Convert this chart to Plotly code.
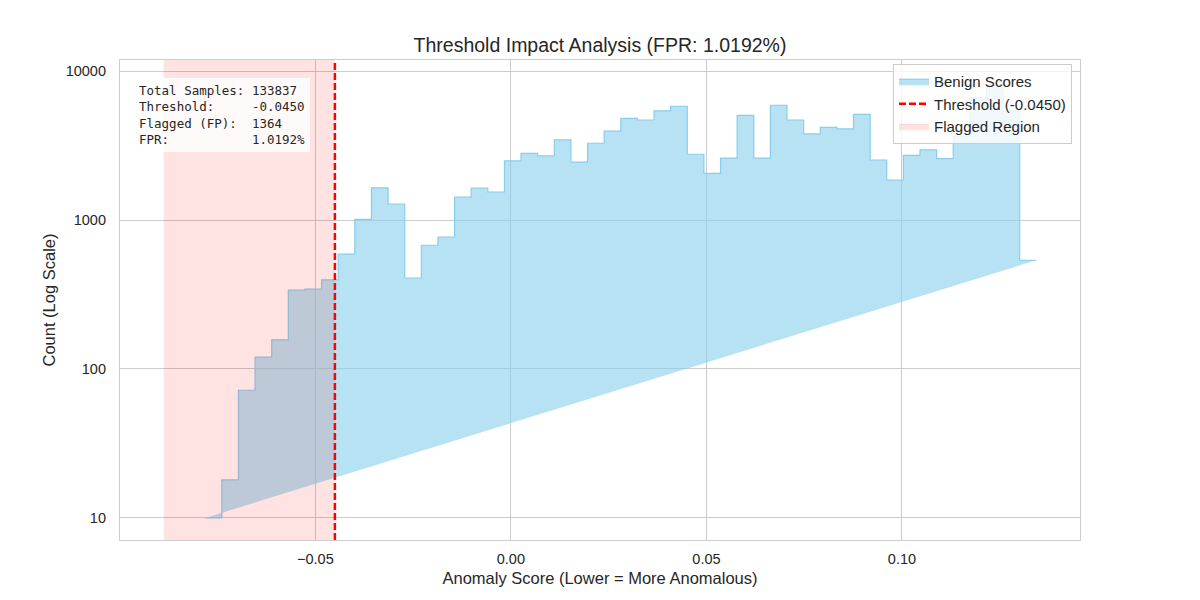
import numpy as np
import plotly.graph_objects as go

# ---- data ----
score_min = -0.07816
score_max = 0.13436
n_bins = 50
counts = [10, 18, 72, 120, 157, 339, 344, 396, 591, 1011,
          1645, 1280, 408, 677, 769, 1427, 1640, 1541, 2490, 2804,
          2690, 3445, 2449, 3275, 3954, 4810, 4690, 5394, 5800, 2762,
          2057, 2605, 5041, 2605, 5891, 4690, 3779, 4189, 4084, 5118,
          2528, 1855, 2717, 2951, 2580, 3660, 6600, 8000, 5350, 537]
threshold = -0.0450
flag_start = -0.0888
total_samples = 133837
flagged_fp = 1364
fpr_pct = 1.0192
x_tickvals = [-0.05, 0.0, 0.05, 0.10]
x_ticktext = ["\u22120.05", "0.00", "0.05", "0.10"]
y_tickvals = [10, 100, 1000, 10000]
y_ticktext = ["10", "100", "1000", "10000"]

edges = np.linspace(score_min, score_max, n_bins + 1)

# step outline (matplotlib stepfilled style)
xs, ys = [edges[0]], [counts[0]]
for i in range(n_bins):
    xs.append(edges[i + 1]); ys.append(counts[i])
    if i + 1 < n_bins:
        xs.append(edges[i + 1]); ys.append(counts[i + 1])

TXT = "#262626"
GRID = "#cccccc"
FONT = "Liberation Sans, Arial, sans-serif"

fig = go.Figure()
fig.add_trace(go.Scatter(
    x=xs, y=ys, mode="lines", fill="toself",
    fillcolor="rgba(135,206,235,0.6)",
    line=dict(color="rgb(135,206,235)", width=1.2),
    name="Benign Scores", legendrank=1, hoverinfo="skip"))

# legend-only entry for the flagged region (patch symbol)
fig.add_trace(go.Scatter(
    x=[None], y=[None], mode="lines", fill="toself",
    fillcolor="rgba(255,0,0,0.11)", line=dict(color="rgba(255,0,0,0.11)", width=1),
    name="Flagged Region", legendrank=3, hoverinfo="skip"))

fig.add_shape(type="rect", xref="x", yref="paper",
              x0=flag_start, x1=threshold, y0=0, y1=1,
              fillcolor="rgba(255,0,0,0.11)", line=dict(width=0),
              layer="above", showlegend=False)
fig.add_shape(type="line", xref="x", yref="paper",
              x0=threshold, x1=threshold, y0=0, y1=1,
              line=dict(color="red", width=2.5, dash="7px,3px"),
              layer="above", showlegend=True,
              name=f"Threshold ({threshold:.4f})", legendrank=2)

nb = "\u00a0"
lines = [
    f"Total Samples: {total_samples}",
    f"Threshold:     {threshold:.4f}",
    f"Flagged (FP):  {flagged_fp}",
    f"FPR:           {fpr_pct:.4f}%",
]
box_text = "<br>".join(l.replace(" ", nb) for l in lines)
fig.add_annotation(
    text=box_text, xref="paper", yref="paper",
    x=(134 - 120) / 960, y=(540 - 78) / 480,
    xanchor="left", yanchor="top", align="left", showarrow=False,
    font=dict(family="DejaVu Sans Mono, monospace", size=12.5, color=TXT),
    bgcolor="rgba(255,255,255,0.8)", borderpad=5, borderwidth=0)

fig.update_layout(
    width=1200, height=600,
    margin=dict(l=120, r=120, t=60, b=60),
    paper_bgcolor="white", plot_bgcolor="white",
    font=dict(family=FONT, color=TXT, size=15),
    title=dict(text=f"Threshold Impact Analysis (FPR: {fpr_pct:.4f}%)",
               x=0.5, xanchor="center", y=1 - 45 / 600, yanchor="middle",
               font=dict(size=19.5, color=TXT, family=FONT)),
    legend=dict(x=(1072 - 120) / 960, y=(540 - 64) / 480,
                xanchor="right", yanchor="top",
                bgcolor="rgba(255,255,255,0.8)", bordercolor=GRID,
                borderwidth=1, font=dict(size=15, color=TXT, family=FONT),
                tracegroupgap=0, itemwidth=30),
    showlegend=True,
)
fig.update_xaxes(
    range=[-0.09995, 0.14552], tickvals=x_tickvals, ticktext=x_ticktext,
    showgrid=True, gridcolor=GRID, gridwidth=1, zeroline=False,
    showline=True, linecolor=GRID, linewidth=1.2, mirror=True,
    ticks="", ticklabelstandoff=5,
    tickfont=dict(size=14.5, color=TXT, family=FONT),
    title=dict(text="Anomaly Score (Lower = More Anomalous)",
               font=dict(size=16.5, color=TXT, family=FONT), standoff=6))
fig.update_yaxes(
    type="log", range=[0.8523, 4.0738], tickvals=y_tickvals, ticktext=y_ticktext,
    showgrid=True, gridcolor=GRID, gridwidth=1, zeroline=False,
    showline=True, linecolor=GRID, linewidth=1.2, mirror=True,
    ticks="", ticklabelstandoff=10,
    tickfont=dict(size=14.5, color=TXT, family=FONT),
    title=dict(text="Count (Log Scale)",
               font=dict(size=16.5, color=TXT, family=FONT), standoff=5))

fig.write_html("out.html")
